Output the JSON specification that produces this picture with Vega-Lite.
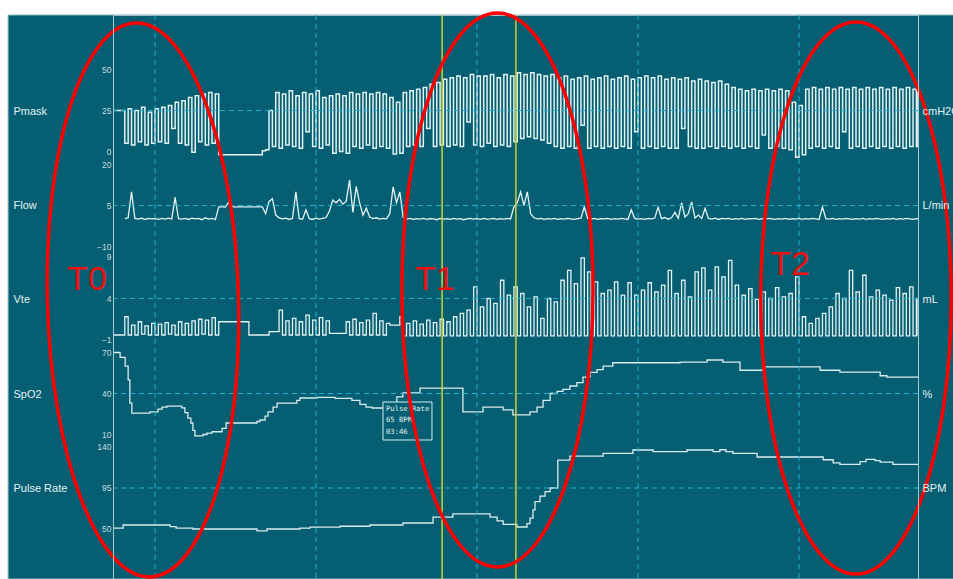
{
"$schema": "https://vega.github.io/schema/vega-lite/v6.json",
"width": 805, "height": 564,
"autosize": {"type": "none"},
"padding": {"left": 113, "top": 15, "right": 35, "bottom": 0},
"background": "#ffffff",
"config": {
 "view": {"stroke": null},
 "axis": {"labelFont": "Liberation Sans", "labelFontSize": 8.5, "labelColor": "#c6dade", "labelPadding": 2, "ticks": false, "domainColor": "#a9c8cf", "domainWidth": 1, "titleFont": "Liberation Sans", "titleFontSize": 11, "titleFontWeight": "normal", "titleColor": "#e4f1f3", "titleAngle": 0, "titleAlign": "left", "titleBaseline": "middle", "grid": false}
},
"datasets": {
 "one": [{}],
 "marks": [{"t": 85.6}, {"t": 107.6}],
 "grid": [{"t": 0}, {"t": 48}, {"t": 96}, {"t": 144}, {"t": 192}],
 "b": [
{"t":-12.5,"p":25,"f":null,"v":-0.4},{"t":-9,"p":5,"f":0.2,"v":1.8},{"t":-8,"p":26,"f":0.5,"v":-0.4},{"t":-7,"p":4,"f":10,"v":0.8},{"t":-6,"p":25,"f":0.3,"v":-0.4},{"t":-5,"p":6,"f":0,"v":1.2},{"t":-4,"p":27,"f":0.4,"v":-0.3},{"t":-3,"p":4,"f":-0.1,"v":0.7},{"t":-2,"p":24,"f":0.3,"v":-0.4},{"t":-1,"p":5,"f":0.1,"v":1},
{"t":0,"p":26,"f":0.2,"v":-0.4},{"t":1,"p":6,"f":-0.1,"v":0.9},{"t":2,"p":27,"f":0.3,"v":-0.4},{"t":3,"p":5,"f":0,"v":1.1},{"t":4,"p":28,"f":0.4,"v":-0.3},{"t":5,"p":14,"f":0.1,"v":0.8},{"t":6,"p":30,"f":8,"v":-0.4},{"t":7,"p":5,"f":0.2,"v":1.2},{"t":8,"p":31,"f":0,"v":-0.4},{"t":9,"p":4,"f":0.3,"v":1},
{"t":10,"p":33,"f":-0.1,"v":-0.4},{"t":11,"p":-0.5,"f":0.4,"v":1.3},{"t":12,"p":34,"f":0.1,"v":-0.4},{"t":13,"p":6,"f":0.3,"v":1.5},{"t":14,"p":35,"f":-0.2,"v":-0.3},{"t":15,"p":4,"f":0.5,"v":1.4},{"t":16,"p":36,"f":0,"v":-0.4},{"t":17,"p":5,"f":0.3,"v":1.7},{"t":18,"p":35,"f":-0.2,"v":-0.4},{"t":19,"p":-2,"f":4.5,"v":1.2},
{"t":20,"p":-2,"f":4.5,"v":1.2},{"t":21,"p":-2,"f":4.4,"v":1.2},{"t":22,"p":-2,"f":6.2,"v":1.2},{"t":23,"p":-2,"f":4.5,"v":1.2},{"t":24,"p":-2,"f":4.5,"v":1.2},{"t":25,"p":-2,"f":4.5,"v":1.2},{"t":26,"p":-2,"f":4.5,"v":1.2},{"t":27,"p":-2,"f":4.5,"v":1.2},{"t":28,"p":-2,"f":4.5,"v":-0.4},{"t":29,"p":-2,"f":4.5,"v":-0.4},
{"t":30,"p":-2,"f":4.5,"v":-0.4},{"t":31,"p":-2,"f":4.5,"v":-0.4},{"t":32,"p":0.5,"f":4.5,"v":-0.4},{"t":33,"p":1,"f":2,"v":-0.4},{"t":34,"p":25,"f":6.5,"v":0},{"t":35,"p":3,"f":7.5,"v":0},{"t":36,"p":36,"f":1.5,"v":0},{"t":37,"p":2,"f":0.5,"v":2.6},{"t":38,"p":35,"f":0.1,"v":-0.4},{"t":39,"p":4,"f":0.4,"v":1.3},
{"t":40,"p":37,"f":-0.1,"v":-0.4},{"t":41,"p":3,"f":0.3,"v":1.6},{"t":42,"p":34,"f":10,"v":-0.4},{"t":43,"p":2,"f":0.2,"v":1.2},{"t":44,"p":36,"f":0,"v":-0.4},{"t":45,"p":12,"f":3.4,"v":2},{"t":46,"p":35,"f":0.2,"v":-0.4},{"t":47,"p":3,"f":-0.1,"v":1.4},{"t":48,"p":37,"f":0.4,"v":-0.4},{"t":49,"p":2,"f":0,"v":1.7},
{"t":50,"p":33,"f":0.3,"v":-0.4},{"t":51,"p":4,"f":0.6,"v":1.3},{"t":52,"p":34,"f":3,"v":-0.2},{"t":53,"p":-1,"f":7,"v":-0.2},{"t":54,"p":35,"f":6,"v":-0.2},{"t":55,"p":0,"f":7.2,"v":-0.2},{"t":56,"p":34,"f":5.5,"v":-0.2},{"t":57,"p":-1,"f":6.5,"v":1.2},{"t":58,"p":36,"f":14.3,"v":-0.4},{"t":59,"p":3,"f":2.5,"v":1.5},
{"t":60,"p":35,"f":12,"v":-0.4},{"t":61,"p":2,"f":6,"v":1.1},{"t":62,"p":36,"f":1.5,"v":-0.4},{"t":63,"p":4,"f":4,"v":1.4},{"t":64,"p":35,"f":0.8,"v":-0.4},{"t":65,"p":2,"f":0.2,"v":2.2},{"t":66,"p":36,"f":0.5,"v":-0.4},{"t":67,"p":3,"f":0,"v":1.3},{"t":68,"p":35,"f":0.3,"v":-0.4},{"t":69,"p":2,"f":0.1,"v":1},
{"t":70,"p":33,"f":2,"v":0.8},{"t":71,"p":-1.5,"f":11.8,"v":0.8},{"t":72,"p":30,"f":6,"v":0.8},{"t":73,"p":-1,"f":10,"v":1.8},{"t":74,"p":36,"f":0.6,"v":-0.5},{"t":75,"p":3,"f":0,"v":1},{"t":76,"p":37,"f":0.3,"v":-0.5},{"t":77,"p":4,"f":-0.1,"v":1.3},{"t":78,"p":38,"f":0.2,"v":-0.5},{"t":79,"p":3,"f":0,"v":0.9},
{"t":80,"p":39,"f":0.3,"v":-0.5},{"t":81,"p":14,"f":-0.1,"v":1.4},{"t":82,"p":41,"f":0.2,"v":-0.5},{"t":83,"p":3,"f":0.1,"v":1.1},{"t":84,"p":42,"f":-0.2,"v":-0.5},{"t":85,"p":4,"f":0.3,"v":1.5},{"t":86,"p":44,"f":0,"v":-0.5},{"t":87,"p":3,"f":0.2,"v":1.2},{"t":88,"p":45,"f":-0.1,"v":-0.5},{"t":89,"p":4,"f":0.3,"v":1.8},
{"t":90,"p":46,"f":0,"v":-0.5},{"t":91,"p":3,"f":0.2,"v":2.2},{"t":92,"p":45,"f":-0.2,"v":-0.5},{"t":93,"p":18,"f":0.1,"v":2.6},{"t":94,"p":47,"f":0.3,"v":-0.5},{"t":95,"p":4,"f":0,"v":5.4},{"t":96,"p":46,"f":0.2,"v":-0.5},{"t":97,"p":3,"f":-0.1,"v":3},{"t":98,"p":46,"f":0.3,"v":-0.5},{"t":99,"p":5,"f":0,"v":4},
{"t":100,"p":47,"f":0.1,"v":-0.5},{"t":101,"p":3,"f":0.3,"v":3.4},{"t":102,"p":45,"f":-0.1,"v":-0.5},{"t":103,"p":4,"f":0.2,"v":6.2},{"t":104,"p":47,"f":0,"v":-0.5},{"t":105,"p":3,"f":0.3,"v":4.4},{"t":106,"p":46,"f":0.1,"v":-0.5},{"t":107,"p":6,"f":4.5,"v":5.4},{"t":108,"p":48,"f":6,"v":-0.5},{"t":109,"p":8,"f":10,"v":4.6},
{"t":110,"p":47,"f":5,"v":-0.5},{"t":111,"p":9,"f":10,"v":3},{"t":112,"p":48,"f":2,"v":-0.5},{"t":113,"p":8,"f":0.5,"v":4.2},{"t":114,"p":47,"f":0.1,"v":-0.5},{"t":115,"p":7,"f":0.3,"v":1.6},{"t":116,"p":46,"f":-0.1,"v":-0.5},{"t":117,"p":5,"f":0.2,"v":4},{"t":118,"p":47,"f":0,"v":-0.5},{"t":119,"p":3,"f":0.3,"v":3.6},
{"t":120,"p":45,"f":-0.1,"v":-0.5},{"t":121,"p":2,"f":0.2,"v":6.2},{"t":122,"p":46,"f":0,"v":-0.5},{"t":123,"p":3,"f":0.3,"v":7.4},{"t":124,"p":44,"f":0.1,"v":-0.5},{"t":125,"p":2,"f":-0.1,"v":5.8},{"t":126,"p":45,"f":0.2,"v":-0.5},{"t":127,"p":16,"f":0.4,"v":8.9},{"t":128,"p":46,"f":4.5,"v":-0.5},{"t":129,"p":2,"f":0.2,"v":7.2},
{"t":130,"p":44,"f":0,"v":-0.5},{"t":131,"p":3,"f":0.3,"v":6},{"t":132,"p":45,"f":-0.1,"v":-0.5},{"t":133,"p":2,"f":0.2,"v":4.6},{"t":134,"p":46,"f":0.1,"v":-0.5},{"t":135,"p":3,"f":0.3,"v":5},{"t":136,"p":44,"f":-0.1,"v":-0.5},{"t":137,"p":2,"f":0.2,"v":6},{"t":138,"p":45,"f":0,"v":-0.5},{"t":139,"p":3,"f":0.3,"v":4.4},
{"t":140,"p":46,"f":0.1,"v":-0.5},{"t":141,"p":2,"f":-0.1,"v":5.9},{"t":142,"p":44,"f":3.4,"v":-0.5},{"t":143,"p":12,"f":0.3,"v":4.4},{"t":144,"p":45,"f":0,"v":-0.5},{"t":145,"p":2,"f":0.2,"v":5},{"t":146,"p":46,"f":-0.1,"v":-0.5},{"t":147,"p":3,"f":0.3,"v":5.9},{"t":148,"p":45,"f":0.1,"v":-0.5},{"t":149,"p":2,"f":0.4,"v":4.8},
{"t":150,"p":46,"f":4.4,"v":-0.5},{"t":151,"p":3,"f":0.2,"v":5.6},{"t":152,"p":44,"f":0.6,"v":-0.5},{"t":153,"p":2,"f":0,"v":7.4},{"t":154,"p":45,"f":0.5,"v":-0.5},{"t":155,"p":2,"f":2.5,"v":4.6},{"t":156,"p":44,"f":0.3,"v":-0.5},{"t":157,"p":14,"f":6,"v":6.2},{"t":158,"p":45,"f":0.8,"v":-0.5},{"t":159,"p":3,"f":2,"v":4.2},
{"t":160,"p":43,"f":6.3,"v":-0.5},{"t":161,"p":2,"f":0.4,"v":7.2},{"t":162,"p":44,"f":1.5,"v":-0.5},{"t":163,"p":2,"f":0.2,"v":7.7},{"t":164,"p":43,"f":4,"v":-0.5},{"t":165,"p":3,"f":0.3,"v":5},{"t":166,"p":42,"f":0,"v":-0.5},{"t":167,"p":2,"f":0.4,"v":7.8},{"t":168,"p":43,"f":-0.1,"v":-0.5},{"t":169,"p":3,"f":0.3,"v":6.6},
{"t":170,"p":41,"f":0.1,"v":-0.5},{"t":171,"p":2,"f":0.3,"v":8.6},{"t":172,"p":39,"f":-0.1,"v":-0.5},{"t":173,"p":3,"f":0.2,"v":5.6},{"t":174,"p":38,"f":0,"v":-0.5},{"t":175,"p":2,"f":0.3,"v":4.4},{"t":176,"p":37,"f":-0.1,"v":-0.5},{"t":177,"p":3,"f":0.2,"v":5.2},{"t":178,"p":38,"f":0.1,"v":-0.5},{"t":179,"p":2,"f":0.3,"v":3.9},
{"t":180,"p":37,"f":-0.1,"v":-0.5},{"t":181,"p":10,"f":0.2,"v":4.8},{"t":182,"p":38,"f":0,"v":-0.5},{"t":183,"p":2,"f":0.3,"v":4},{"t":184,"p":37,"f":0.1,"v":-0.5},{"t":185,"p":3,"f":-0.1,"v":5.3},{"t":186,"p":38,"f":0.2,"v":-0.5},{"t":187,"p":2,"f":0,"v":4.2},{"t":188,"p":37,"f":0.3,"v":-0.5},{"t":189,"p":1,"f":-0.1,"v":4.6},
{"t":190,"p":30,"f":0.2,"v":-0.5},{"t":191,"p":-3.5,"f":0,"v":6.6},{"t":192,"p":28,"f":0.3,"v":-0.5},{"t":193,"p":-2,"f":-0.1,"v":1.8},{"t":194,"p":38,"f":0.2,"v":-0.5},{"t":195,"p":2,"f":0,"v":1},{"t":196,"p":39,"f":0.3,"v":-0.5},{"t":197,"p":3,"f":0.1,"v":1.6},{"t":198,"p":38,"f":-0.1,"v":-0.5},{"t":199,"p":2,"f":4.5,"v":2.2},
{"t":200,"p":39,"f":0.2,"v":-0.5},{"t":201,"p":3,"f":0,"v":3},{"t":202,"p":38,"f":0.3,"v":-0.5},{"t":203,"p":2,"f":-0.1,"v":4.6},{"t":204,"p":39,"f":0.2,"v":-0.5},{"t":205,"p":12,"f":0,"v":4},{"t":206,"p":38,"f":0.3,"v":-0.5},{"t":207,"p":2,"f":0.1,"v":7.4},{"t":208,"p":39,"f":-0.1,"v":-0.5},{"t":209,"p":3,"f":0.2,"v":4.8},
{"t":210,"p":38,"f":0,"v":-0.5},{"t":211,"p":2,"f":0.3,"v":6.8},{"t":212,"p":39,"f":-0.1,"v":-0.5},{"t":213,"p":3,"f":0.2,"v":4.2},{"t":214,"p":38,"f":0,"v":-0.5},{"t":215,"p":2,"f":0.3,"v":5},{"t":216,"p":39,"f":0.1,"v":-0.5},{"t":217,"p":3,"f":-0.1,"v":4.4},{"t":218,"p":38,"f":0.2,"v":-0.5},{"t":219,"p":2,"f":0,"v":3.8},
{"t":220,"p":39,"f":0.3,"v":-0.5},{"t":221,"p":3,"f":-0.1,"v":5.3},{"t":222,"p":38,"f":0.2,"v":-0.5},{"t":223,"p":2,"f":0,"v":4.6},{"t":224,"p":39,"f":0.3,"v":-0.5},{"t":225,"p":3,"f":0.1,"v":5.4},{"t":226,"p":38,"f":-0.1,"v":-0.5},{"t":227,"p":3,"f":0.2,"v":4},{"t":227.48,"p":38,"f":0.1,"v":-0.5}
 ],
 "sp": [
{"t":-12.5,"s":70},{"t":-10.4,"s":66.5},{"t":-8.9,"s":60},{"t":-8,"s":50},{"t":-7.5,"s":33},{"t":-6.9,"s":25.7},{"t":-1.5,"s":26.5},{"t":0.9,"s":28.5},{"t":2.1,"s":30},{"t":3.6,"s":30.8},{"t":8,"s":29.5},{"t":8.9,"s":26},{"t":9.8,"s":22},{"t":10.7,"s":18.4},{"t":11.3,"s":13},{"t":11.9,"s":9},{"t":14.3,"s":10},{"t":15.5,"s":11},{"t":17,"s":12},{"t":20,"s":14.5},{"t":21.2,"s":18.4},{"t":30.4,"s":19.5},{"t":31.3,"s":20.6},{"t":32.8,"s":23.5},{"t":33.7,"s":26.5},{"t":35.2,"s":30},{"t":36.4,"s":33},{"t":42.3,"s":35},{"t":43.2,"s":36.7},{"t":48.3,"s":37.2},{"t":53.7,"s":36.5},{"t":58.7,"s":35},{"t":61.1,"s":32},{"t":62.9,"s":30},{"t":64.7,"s":29.4},{"t":70,"s":31},{"t":72.1,"s":37.6},{"t":73.9,"s":40.4},{"t":79,"s":44},{"t":91.8,"s":26.5},{"t":97.8,"s":30},{"t":103.8,"s":28},{"t":106.7,"s":24.3},{"t":111.8,"s":26.5},{"t":113.9,"s":30},{"t":115.7,"s":35},{"t":117.8,"s":40},{"t":119.9,"s":41.5},{"t":121.6,"s":43},{"t":123.7,"s":45.5},{"t":125.8,"s":48},{"t":127.6,"s":52},{"t":129.7,"s":55.5},{"t":131.8,"s":57.5},{"t":133.6,"s":60},{"t":136.5,"s":62.5},{"t":156.5,"s":63},{"t":164.6,"s":64.5},{"t":169.3,"s":63},{"t":174.4,"s":57},{"t":181.3,"s":59.5},{"t":198.3,"s":57},{"t":204.2,"s":55.7},{"t":216.2,"s":53},{"t":218.2,"s":52},{"t":227.48,"s":52}
 ],
 "pr": [
{"t":-12.5,"r":51},{"t":-9.5,"r":54.4},{"t":4.5,"r":52.5},{"t":6.3,"r":51},{"t":11.3,"r":50},{"t":30.4,"r":48},{"t":33.4,"r":50},{"t":43.2,"r":51},{"t":46.2,"r":52},{"t":55.2,"r":53},{"t":64.1,"r":54.4},{"t":73.9,"r":56.6},{"t":82.9,"r":63},{"t":88.8,"r":66.5},{"t":99.9,"r":63},{"t":102,"r":59},{"t":103.8,"r":55},{"t":107.9,"r":52.2},{"t":110.9,"r":56},{"t":111.8,"r":62},{"t":112.7,"r":71},{"t":113.3,"r":80},{"t":114.8,"r":86},{"t":116.3,"r":91},{"t":117.8,"r":95},{"t":120.1,"r":125.7},{"t":123.7,"r":130},{"t":133.6,"r":133},{"t":142.5,"r":136.7},{"t":148.5,"r":135},{"t":158.6,"r":136.7},{"t":166.4,"r":135},{"t":168.4,"r":137},{"t":170.2,"r":135},{"t":172.3,"r":133},{"t":179.5,"r":129},{"t":199.2,"r":126},{"t":202.2,"r":122.5},{"t":204.2,"r":121},{"t":210.2,"r":124},{"t":212,"r":126.5},{"t":214.7,"r":125},{"t":216.2,"r":123.5},{"t":220,"r":121},{"t":227.48,"r":121}
 ]
},
"layer": [
 {"data": {"name": "one"}, "mark": {"type": "rect", "fill": "#055e72", "stroke": "#8fb8c1", "strokeWidth": 1},
  "encoding": {"x": {"datum": -43.8, "type": "quantitative", "axis": null}, "x2": {"datum": 240}}},
 {"layer": [
   {"data": {"name": "b"}, "mark": {"type": "line", "interpolate": "step-after", "stroke": "#e4f3f4", "strokeWidth": 1.5},
    "encoding": {
     "x": {"field": "t", "type": "quantitative", "scale": {"domain": [-12.52, 227.48], "nice": false, "zero": false}, "axis": null},
     "y": {"field": "p", "type": "quantitative", "scale": {"domain": [-260.67, 83.23], "nice": false, "zero": false},
           "axis": {"zindex": 2, "orient": "left", "values": [0,25,50], "title": "Pmask", "titleX": -100, "titleY": 96}}}},
   {"data": {"name": "one"}, "mark": {"type": "rule", "stroke": "#1eb1d0", "strokeDash": [5,4], "strokeWidth": 1},
    "encoding": {"y": {"datum": 25, "type": "quantitative", "axis": {"zindex": 2, "orient": "right", "labels": false, "title": "cmH2O", "titleX": 4, "titleY": 96}}}},
   {"data": {"name": "one"}, "mark": {"type": "rule", "stroke": "#a9c8cf", "strokeWidth": 1},
    "encoding": {"y": {"datum": 83.0, "type": "quantitative", "axis": null}}}
 ]},
 {"layer": [
   {"data": {"name": "b"}, "mark": {"type": "line", "stroke": "#e4f3f4", "strokeWidth": 1.3},
    "encoding": {
     "x": {"field": "t", "type": "quantitative", "scale": {"domain": [-12.52, 227.48], "nice": false, "zero": false}, "axis": null},
     "y": {"field": "f", "type": "quantitative", "scale": {"domain": [-131.65, 74.7], "nice": false, "zero": false},
           "axis": {"zindex": 2, "orient": "left", "values": [-10,5,20], "title": "Flow", "titleX": -100, "titleY": 190}}}},
   {"data": {"name": "one"}, "mark": {"type": "rule", "stroke": "#1eb1d0", "strokeDash": [5,4], "strokeWidth": 1},
    "encoding": {"y": {"datum": 5, "type": "quantitative", "axis": {"zindex": 2, "orient": "right", "labels": false, "title": "L/min", "titleX": 4, "titleY": 190}}}}
 ]},
 {"layer": [
   {"data": {"name": "sp"}, "mark": {"type": "line", "interpolate": "step-after", "stroke": "#dcecee", "strokeWidth": 1.3},
    "encoding": {
     "x": {"field": "t", "type": "quantitative", "scale": {"domain": [-12.52, 227.48], "nice": false, "zero": false}, "axis": null},
     "y": {"field": "s", "type": "quantitative", "scale": {"domain": [-95.73, 316.95], "nice": false, "zero": false},
           "axis": {"zindex": 2, "orient": "left", "values": [10,40,70], "title": "SpO2", "titleX": -100, "titleY": 379}}}},
   {"data": {"name": "one"}, "mark": {"type": "rule", "stroke": "#1eb1d0", "strokeDash": [5,4], "strokeWidth": 1},
    "encoding": {"y": {"datum": 40, "type": "quantitative", "axis": {"zindex": 2, "orient": "right", "labels": false, "title": "%", "titleX": 4, "titleY": 379}}}},
   {"data": {"name": "one"}, "mark": {"type": "rect", "fill": "#055e72", "stroke": "#dcebed", "strokeWidth": 1},
    "encoding": {"x": {"datum": 67.98, "type": "quantitative", "axis": null}, "x2": {"datum": 82.58},
                 "y": {"datum": 33.78, "type": "quantitative", "axis": null}, "y2": {"datum": 5.98}}},
   {"data": {"name": "one"}, "mark": {"type": "text", "text": ["Pulse Rate", "65 BPM", "03:46"], "font": "DejaVu Sans Mono", "fontSize": 7.2, "lineHeight": 11.5, "align": "left", "baseline": "top", "fill": "#e2f0f0"},
    "encoding": {"x": {"datum": 68.87, "type": "quantitative", "axis": null}, "y": {"datum": 31.95, "type": "quantitative", "axis": null}}}
 ]},
 {"layer": [
   {"data": {"name": "pr"}, "mark": {"type": "line", "interpolate": "step-after", "stroke": "#dcecee", "strokeWidth": 1.3},
    "encoding": {
     "x": {"field": "t", "type": "quantitative", "scale": {"domain": [-12.52, 227.48], "nice": false, "zero": false}, "axis": null},
     "y": {"field": "r", "type": "quantitative", "scale": {"domain": [-4.88, 614.15], "nice": false, "zero": false},
           "axis": {"zindex": 2, "orient": "left", "values": [50,95,140], "title": "Pulse Rate", "titleX": -100, "titleY": 473}}}},
   {"data": {"name": "one"}, "mark": {"type": "rule", "stroke": "#1eb1d0", "strokeDash": [5,4], "strokeWidth": 1},
    "encoding": {"y": {"datum": 95, "type": "quantitative", "axis": {"zindex": 2, "orient": "right", "labels": false, "title": "BPM", "titleX": 4, "titleY": 473}}}}
 ]},
 {"layer": [
   {"data": {"name": "b"}, "mark": {"type": "line", "interpolate": "step-after", "stroke": "#e4f3f4", "strokeWidth": 1.3},
    "encoding": {
     "x": {"field": "t", "type": "quantitative", "scale": {"domain": [-12.52, 227.48], "nice": false, "zero": false}, "axis": null},
     "y": {"field": "v", "type": "quantitative", "scale": {"domain": [-29.8, 38.16], "nice": false, "zero": false},
           "axis": {"zindex": 2, "orient": "left", "values": [-1,4,9], "title": "Vte", "titleX": -100, "titleY": 284}}}},
   {"data": {"name": "one"}, "mark": {"type": "rule", "stroke": "#1eb1d0", "strokeDash": [5,4], "strokeWidth": 1},
    "encoding": {"y": {"datum": 4, "type": "quantitative", "axis": {"zindex": 2, "orient": "right", "labels": false, "title": "mL", "titleX": 4, "titleY": 284}}}},
   {"data": {"name": "grid"}, "mark": {"type": "rule", "stroke": "#1eb1d0", "strokeDash": [5,4], "strokeWidth": 1},
    "encoding": {"x": {"field": "t", "type": "quantitative", "axis": null}}},
   {"data": {"name": "marks"}, "mark": {"type": "rule", "stroke": "#c9d52f", "strokeWidth": 1.5},
    "encoding": {"x": {"field": "t", "type": "quantitative", "axis": null}}},
   {"data": {"name": "one"}, "mark": {"type": "point", "shape": "M0,-1C0.1905,-1,0.345,-0.5523,0.345,0C0.345,0.5523,0.1905,1,0,1C-0.1905,1,-0.345,0.5523,-0.345,0C-0.345,-0.5523,-0.1905,-1,0,-1Z", "size": 306916, "filled": false, "stroke": "#ff0000", "strokeWidth": 3.5, "opacity": 1, "angle": 358.5},
    "encoding": {"x": {"datum": -3.58, "type": "quantitative", "axis": null}, "y": {"datum": 3.82, "type": "quantitative", "axis": null}}},
   {"data": {"name": "one"}, "mark": {"type": "point", "shape": "M0,-1C0.1905,-1,0.345,-0.5523,0.345,0C0.345,0.5523,0.1905,1,0,1C-0.1905,1,-0.345,0.5523,-0.345,0C-0.345,-0.5523,-0.1905,-1,0,-1Z", "size": 306916, "filled": false, "stroke": "#ff0000", "strokeWidth": 3.5, "opacity": 1},
    "encoding": {"x": {"datum": 102.1, "type": "quantitative", "axis": null}, "y": {"datum": 5.02, "type": "quantitative", "axis": null}}},
   {"data": {"name": "one"}, "mark": {"type": "point", "shape": "M0,-1C0.1905,-1,0.345,-0.5523,0.345,0C0.345,0.5523,0.1905,1,0,1C-0.1905,1,-0.345,0.5523,-0.345,0C-0.345,-0.5523,-0.1905,-1,0,-1Z", "size": 304704, "filled": false, "stroke": "#ff0000", "strokeWidth": 3.5, "opacity": 1},
    "encoding": {"x": {"datum": 209.0, "type": "quantitative", "axis": null}, "y": {"datum": 4.06, "type": "quantitative", "axis": null}}},
   {"data": {"name": "one"}, "mark": {"type": "text", "text": "T0", "font": "Liberation Sans", "fontSize": 34, "align": "left", "baseline": "alphabetic", "fill": "#ee1111"},
    "encoding": {"x": {"datum": -26.2, "type": "quantitative", "axis": null}, "y": {"datum": 5.02, "type": "quantitative", "axis": null}}},
   {"data": {"name": "one"}, "mark": {"type": "text", "text": "T1", "font": "Liberation Sans", "fontSize": 34, "align": "left", "baseline": "alphabetic", "fill": "#ee1111"},
    "encoding": {"x": {"datum": 77.5, "type": "quantitative", "axis": null}, "y": {"datum": 5.02, "type": "quantitative", "axis": null}}},
   {"data": {"name": "one"}, "mark": {"type": "text", "text": "T2", "font": "Liberation Sans", "fontSize": 34, "align": "left", "baseline": "alphabetic", "fill": "#ee1111"},
    "encoding": {"x": {"datum": 183.4, "type": "quantitative", "axis": null}, "y": {"datum": 6.83, "type": "quantitative", "axis": null}}}
 ]}
],
"resolve": {"scale": {"y": "independent"}}
}
